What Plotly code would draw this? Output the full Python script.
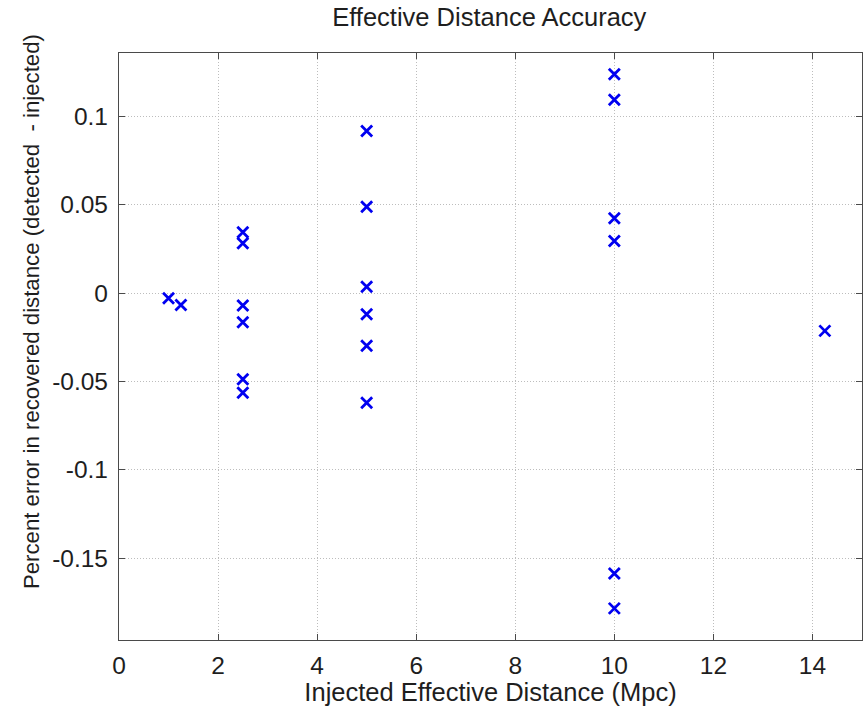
import plotly.graph_objects as go

# Injected effective distance (Mpc)
injected_distance = [1.0, 1.25,
                     2.5, 2.5, 2.5, 2.5, 2.5, 2.5,
                     5.0, 5.0, 5.0, 5.0, 5.0, 5.0,
                     10.0, 10.0, 10.0, 10.0, 10.0, 10.0,
                     14.25]
# Percent error in recovered distance
percent_error = [-0.0028, -0.0066,
                 0.0345, 0.0283, -0.0070, -0.0164, -0.0487, -0.0563,
                 0.0919, 0.0490, 0.0037, -0.0119, -0.0297, -0.0620,
                 0.1240, 0.1095, 0.0425, 0.0296, -0.1586, -0.1784,
                 -0.0213]

x_ticks = [0, 2, 4, 6, 8, 10, 12, 14]
y_ticks = [-0.15, -0.1, -0.05, 0, 0.05, 0.1]
y_tick_text = ["-0.15", "-0.1", "-0.05", "0", "0.05", "0.1"]

FONT = "Liberation Sans, Arial, Helvetica, sans-serif"
TXT = "#1e1e1e"

fig = go.Figure()
fig.add_trace(go.Scatter(
    x=injected_distance, y=percent_error, mode="markers",
    marker=dict(symbol="x-thin", size=11, color="#0000f0",
                line=dict(width=2.8, color="#0000f0")),
    showlegend=False))

axis_common = dict(
    showline=True, linecolor="#4a4a4a", linewidth=1.2, mirror="allticks",
    ticks="inside", ticklen=6, tickcolor="#4a4a4a", tickwidth=1,
    showgrid=True, gridcolor="#bdbdbd", griddash="1px,2px", gridwidth=1,
    zeroline=False,
    tickfont=dict(family=FONT, size=24.5, color=TXT),
)

fig.update_layout(
    width=866, height=712,
    margin=dict(l=119, r=4, t=53, b=72),
    paper_bgcolor="white", plot_bgcolor="white",
    title=dict(text="Effective Distance Accuracy", x=0.565, xanchor="center",
               y=0.976, yanchor="middle", yref="container",
               font=dict(family=FONT, size=25.5, color=TXT)),
    xaxis=dict(range=[0, 15], tickvals=x_ticks,
               title=dict(text="Injected Effective Distance (Mpc)", standoff=2,
                          font=dict(family=FONT, size=25.5, color=TXT)),
               ticklabelstandoff=3,
               **axis_common),
    yaxis=dict(range=[-0.1963, 0.136], tickvals=y_ticks, ticktext=y_tick_text,
               ticklabelstandoff=5,
               **axis_common),
    annotations=[dict(
        text="Percent error in recovered distance (detected  - injected)",
        xref="paper", yref="paper", x=-0.117, y=0.5588,
        xanchor="center", yanchor="middle", textangle=-90, showarrow=False,
        font=dict(family=FONT, size=22.2, color=TXT))],
)

fig.write_html("out.html", config={"displayModeBar": False},
               post_script="document.body.style.margin='0';")
